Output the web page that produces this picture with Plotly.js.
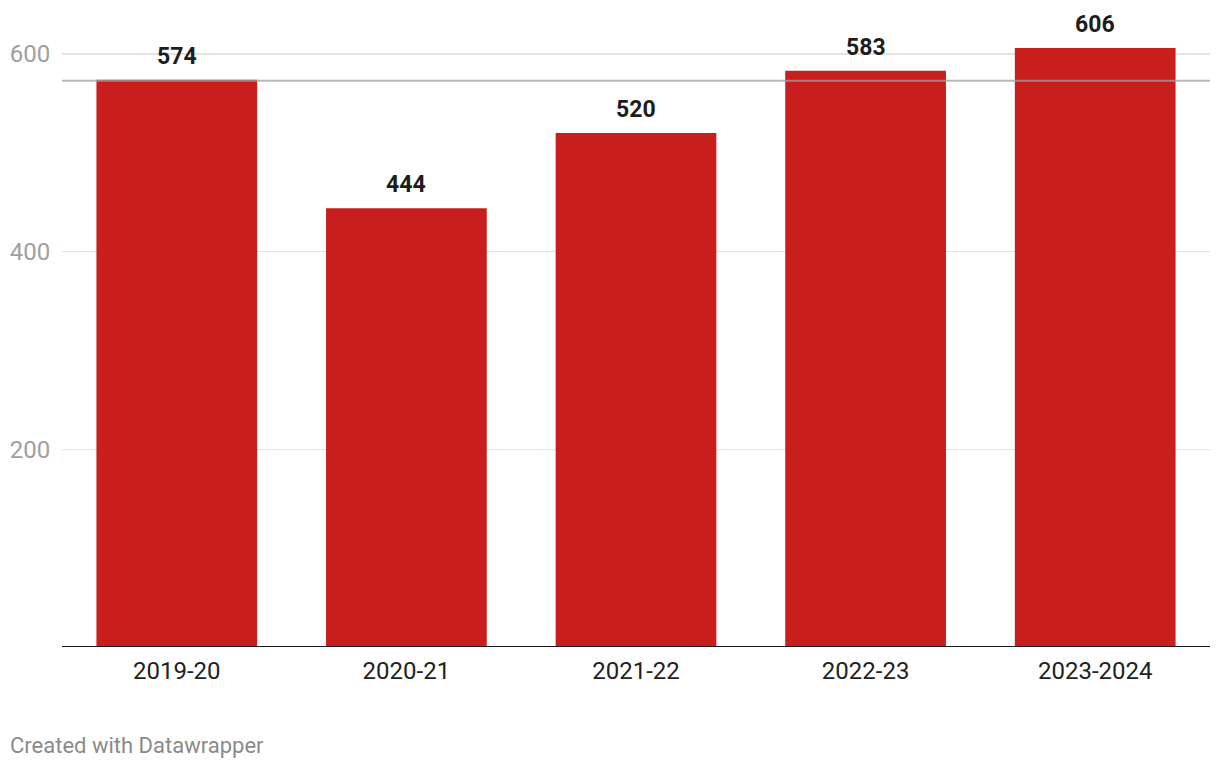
<!DOCTYPE html>
<html>
<head>
<meta charset="utf-8">
<script src="https://cdn.plot.ly/plotly-3.0.1.min.js"></script>
<style>
html,body{margin:0;padding:0;background:#fff;}
#chart{width:1220px;height:768px;}
</style>
</head>
<body>
<div id="chart"></div>
<script>
const categories = ["2019-20", "2020-21", "2021-22", "2022-23", "2023-2024"];
const values = [574, 444, 520, 583, 606];
const yTickValues = [200, 400, 600];
const referenceValue = 573;

const trace = {
  type: "bar",
  x: categories,
  y: values,
  marker: {color: "#c81e1e"},
  hoverinfo: "none"
};

const annotations = categories.map((c, i) => ({
  x: c, y: values[i], xref: "x", yref: "y",
  text: "<b>" + values[i] + "</b>",
  showarrow: false, yanchor: "bottom", yshift: 8,
  font: {family: "Roboto", size: 23, color: "#1d1d1d"}
}));
annotations.push({
  xref: "paper", yref: "paper", x: 0, xanchor: "left",
  xshift: -54, y: 0, yanchor: "middle", yshift: -98,
  text: "Created with Datawrapper", showarrow: false,
  font: {family: "Roboto", size: 22, color: "#8a8a8a"}
});

const layout = {
  width: 1220, height: 768,
  margin: {l: 62, r: 10, t: 20, b: 121},
  paper_bgcolor: "#fff", plot_bgcolor: "#fff",
  bargap: 0.3,
  showlegend: false,
  xaxis: {
    type: "category",
    showgrid: false, zeroline: false, showline: false,
    ticks: "outside", ticklen: 2, tickcolor: "rgba(0,0,0,0)",
    tickfont: {family: "Roboto", size: 24, color: "#222"}
  },
  yaxis: {
    range: [0, 634.4],
    tickvals: yTickValues,
    showgrid: true, gridcolor: "#e3e3e3", gridwidth: 1.5,
    zeroline: false, showline: false,
    ticks: "outside", ticklen: 6, tickcolor: "rgba(0,0,0,0)",
    tickfont: {family: "Roboto", size: 24, color: "#a0a0a0"}
  },
  shapes: [
    {type: "line", xref: "paper", yref: "y", x0: 0, x1: 1, y0: 0, y1: 0,
     line: {color: "#1a1a1a", width: 2}, layer: "above"},
    {type: "line", xref: "paper", yref: "y", x0: 0, x1: 1, y0: referenceValue, y1: referenceValue,
     line: {color: "rgba(160,160,160,0.75)", width: 2}, layer: "above"}
  ],
  annotations: annotations
};

Plotly.newPlot("chart", [trace], layout, {displayModeBar: false, staticPlot: true});
</script>
</body>
</html>
